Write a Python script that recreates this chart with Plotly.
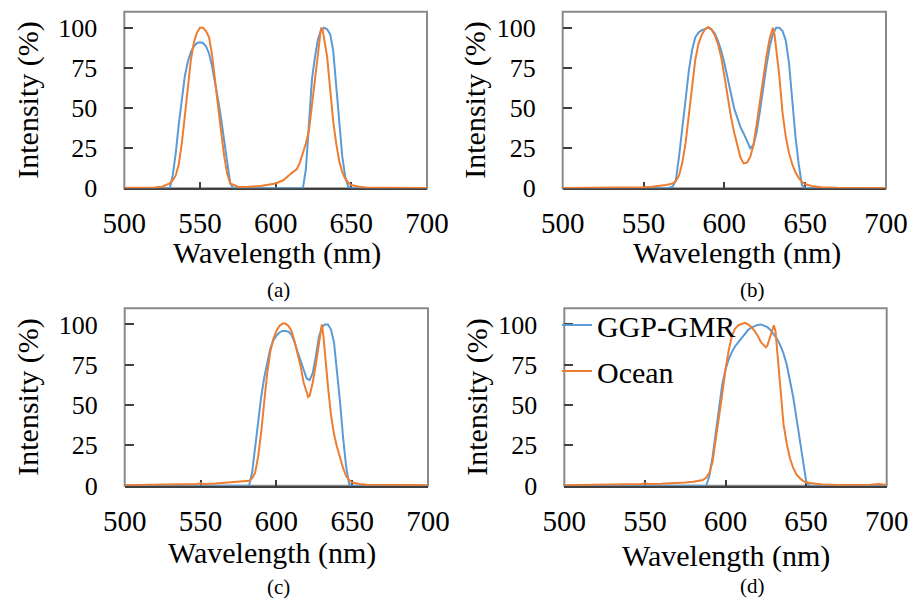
import plotly.graph_objects as go

# ---------------- data ----------------
# panel (a)
a_blue_wl = [500, 525, 530, 532, 534, 536, 538, 540, 542, 544, 546, 548, 550, 552, 554, 556, 558, 560, 562, 564, 566, 568, 570, 572,
             600, 618, 620, 622, 624, 626, 628, 630, 632, 634, 636, 638, 640, 642, 644, 646, 648, 650, 700]
a_blue = [0, 0, 0, 8, 22, 40, 57, 70, 79, 85, 88.5, 90.5, 91, 90.5, 88.5, 84, 76, 66, 55, 43, 30, 16, 3, 0,
          0, 0, 12, 40, 68, 82, 93, 98.5, 100, 99, 96, 86, 62, 40, 20, 7, 1, 0, 0]
a_orange_wl = [500, 510, 520, 525, 528, 530, 532, 534, 536, 538, 540, 542, 544, 546, 548, 550, 552, 554, 556, 558, 560, 562, 564,
               566, 568, 570, 575, 580, 590, 600, 605, 610, 614, 616, 618, 620, 622, 624, 626, 628, 630, 631, 632, 634, 636, 638,
               640, 642, 644, 646, 648, 650, 655, 660, 670, 680, 700]
a_orange = [0.3, 0.3, 0.5, 1, 2, 3, 5, 8, 15, 28, 45, 63, 80, 91, 97, 100, 100, 98, 94, 83, 66, 50, 35,
            20, 9, 3, 1, 0.8, 1.5, 3, 5, 9, 12, 16, 22, 28, 36, 52, 66, 86, 100, 99, 94, 82, 62, 42,
            28, 17, 10, 6, 3.5, 2, 1, 0.5, 0.3, 0.3, 0.2]

# panel (b)
b_blue_wl = [500, 565, 568, 570, 572, 574, 576, 578, 580, 582, 584, 586, 588, 590, 592, 594, 596, 598, 600, 602, 604, 606, 608,
             610, 612, 614, 616, 618, 620, 622, 624, 626, 628, 630, 632, 634, 636, 638, 640, 642, 644, 646, 648, 650, 700]
b_blue = [0, 0, 1, 5, 20, 36, 55, 73, 86, 94, 97, 98.5, 99.5, 100, 99, 96.5, 92, 86, 78, 68, 58, 50, 44,
          38, 34, 29, 25, 27, 35, 48, 63, 76, 88, 96, 100, 100, 98, 92, 78, 55, 32, 15, 2, 0, 0]
b_orange_wl = [500, 520, 540, 550, 555, 560, 564, 568, 570, 572, 574, 576, 578, 580, 582, 584, 586, 588, 590, 592, 594, 596,
               598, 600, 602, 604, 606, 608, 610, 612, 614, 616, 618, 620, 622, 624, 626, 628, 630, 631, 632, 634, 636, 638,
               640, 642, 644, 646, 648, 650, 655, 660, 670, 680, 690, 700]
b_orange = [0.2, 0.3, 0.5, 0.7, 1, 1.3, 2, 3, 4.5, 8, 16, 28, 45, 64, 80, 90, 95.5, 99, 100.5, 99, 95.5, 90,
            82, 70, 57, 45, 35, 26, 19, 15.5, 16, 19.5, 27, 40, 55, 68, 82, 93, 100, 96, 88, 70, 47, 32,
            22, 15, 10, 6.5, 4, 2.5, 1.2, 0.7, 0.4, 0.3, 0.3, 0.2]

# panel (c)
c_blue_wl = [500, 580, 582, 584, 586, 588, 590, 592, 594, 596, 598, 600, 602, 604, 606, 608, 610, 612, 614, 616, 618, 620,
             622, 624, 626, 628, 630, 632, 634, 636, 638, 640, 642, 644, 646, 648, 650, 700]
c_blue = [0, 0, 0, 8, 24, 40, 55, 67, 77, 85, 90, 93, 95, 96, 96, 95.5, 93.5, 89, 83, 77, 71.5, 66.5,
          65.5, 70, 80, 92, 98, 100, 100, 97, 89, 72, 52, 30, 12, 1, 0, 0]
c_orange_wl = [500, 520, 540, 548, 550, 552, 560, 570, 575, 580, 582, 584, 586, 588, 590, 592, 594, 596, 598, 600, 602, 604,
               606, 608, 610, 612, 614, 616, 618, 620, 621, 622, 624, 626, 628, 630, 631, 632, 634, 636, 638, 640, 642, 644,
               646, 648, 650, 655, 660, 670, 680, 690, 700]
c_orange = [0.3, 0.4, 0.6, 1, 1.5, 1, 1.3, 2, 2.5, 3, 3, 4.5, 8, 18, 33, 52, 70, 83, 91, 96, 99, 100.5,
            100.5, 99, 96, 89.5, 82, 74, 64, 57, 55, 56, 64, 75, 89, 100, 93, 82, 62, 44, 32, 24, 17, 11,
            6, 3.5, 2, 1, 0.6, 0.4, 0.5, 0.4, 0.3]

# panel (d)
d_blue_wl = [500, 586, 588, 590, 592, 594, 596, 598, 600, 602, 604, 606, 608, 610, 612, 614, 616, 618, 620, 622, 624, 626,
             628, 630, 632, 634, 636, 638, 640, 642, 644, 646, 648, 650, 652, 700]
d_blue = [0, 0, 0, 6, 18, 33, 49, 63, 72, 78.5, 83, 86.5, 89, 91.5, 94, 96.5, 98, 99, 99.7, 100, 99.3, 98.3,
          96.5, 94, 91, 87, 82, 75, 66, 55, 42, 28, 15, 3, 0, 0]
d_orange_wl = [500, 520, 540, 548, 550, 552, 560, 570, 575, 580, 584, 586, 588, 590, 592, 594, 596, 598, 600, 602, 604, 606,
               608, 610, 612, 614, 616, 618, 620, 622, 624, 625, 626, 628, 630, 631, 632, 634, 636, 638, 640, 642, 644, 646,
               648, 650, 655, 660, 670, 680, 690, 695, 700]
d_orange = [0.3, 0.4, 0.6, 1, 1.5, 1, 1.2, 1.5, 2, 2.5, 3, 3.5, 5, 8, 15, 28, 42, 57, 72, 84, 93, 97.5,
            99.5, 100.5, 101, 100, 98.5, 96, 93, 89, 86.5, 85.8, 87, 93, 99.5, 96, 85, 58, 38, 26, 17, 11, 7, 4.8,
            3, 2, 1.2, 0.8, 0.5, 0.5, 0.6, 1, 0.5]

series_names = ["GGP-GMR", "Ocean"]
panel_labels = ["(a)", "(b)", "(c)", "(d)"]
x_ticks = [500, 550, 600, 650, 700]
y_ticks = [0, 25, 50, 75, 100]
x_title = "Wavelength (nm)"
y_title = "Intensity (%)"

panels = [
    (a_blue_wl, a_blue, a_orange_wl, a_orange),
    (b_blue_wl, b_blue, b_orange_wl, b_orange),
    (c_blue_wl, c_blue, c_orange_wl, c_orange),
    (d_blue_wl, d_blue, d_orange_wl, d_orange),
]

# ---------------- styling / layout ----------------
W, H = 912, 600
BLUE = "#5B9BD5"
ORANGE = "#ED7D31"
FONT = "Liberation Serif"
FRAME = "#8a8a8a"
DARK = "#404040"

# plot-area boxes in pixels: (left, right, top, bottom)
boxes = [
    (124.3, 427.0, 11.7, 188.3),
    (562.7, 886.0, 11.7, 188.3),
    (124.7, 428.0, 308.3, 485.7),
    (564.3, 886.7, 308.3, 485.7),
]
y_title_standoff = [10, 2, 11, 1]
x_title_pos = [(276.5, 253), (737, 253), (271.7, 553), (726, 556)]
caption_pos = [(278, 290), (752.7, 290), (278, 587), (752.7, 586)]

fig = go.Figure()
layout = dict(
    width=W, height=H,
    margin=dict(l=0, r=0, t=0, b=0, autoexpand=False),
    paper_bgcolor="white",
    plot_bgcolor="white",
    font=dict(family=FONT, color="black"),
    showlegend=True,
    legend=dict(
        x=557 / W, y=1 - 299 / H, xanchor="left", yanchor="top",
        xref="paper", yref="paper",
        font=dict(family=FONT, size=30, color="black"),
        bgcolor="rgba(0,0,0,0)", borderwidth=0,
        tracegroupgap=4, traceorder="grouped",
        itemwidth=30,
    ),
)
shapes = []
annotations = []

for i, (bwl, bv, owl, ov) in enumerate(panels):
    n = "" if i == 0 else str(i + 1)
    xa, ya = "x" + n, "y" + n
    left, right, top, bottom = boxes[i]
    fig.add_trace(go.Scatter(
        x=bwl, y=bv, xaxis=xa, yaxis=ya, mode="lines",
        line=dict(color=BLUE, width=2), name=series_names[0],
        legendgroup="g1", showlegend=(i == 3),
    ))
    fig.add_trace(go.Scatter(
        x=owl, y=ov, xaxis=xa, yaxis=ya, mode="lines",
        line=dict(color=ORANGE, width=2), name=series_names[1],
        legendgroup="g2", showlegend=(i == 3),
    ))
    layout["xaxis" + n] = dict(
        domain=[left / W, right / W], anchor=ya, automargin=False,
        range=[500, 700], tickvals=x_ticks, ticktext=[str(t) for t in x_ticks],
        ticks="inside", ticklen=6, tickwidth=1.5, tickcolor=DARK,
        showline=True, linecolor=DARK, linewidth=2, mirror=False,
        layer="below traces", showgrid=False, zeroline=False,
        tickfont=dict(family=FONT, size=29, color="black"),
        ticklabelstandoff=8,
        fixedrange=True,
    )
    layout["yaxis" + n] = dict(
        domain=[1 - bottom / H, 1 - top / H], anchor=xa, automargin=False,
        range=[0, 110], tickvals=y_ticks, ticktext=[str(t) for t in y_ticks],
        ticks="inside", ticklen=9, tickwidth=1.5, tickcolor=DARK,
        showline=False, layer="below traces", showgrid=False, zeroline=False,
        tickfont=dict(family=FONT, size=26, color="black"),
        ticklabelstandoff=26,
        title=dict(text=y_title, font=dict(family=FONT, size=30, color="black"),
                   standoff=y_title_standoff[i]),
        fixedrange=True,
    )
    shapes.append(dict(
        type="rect", xref=xa + " domain", yref=ya + " domain",
        x0=0, x1=1, y0=0, y1=1, layer="below",
        line=dict(color=FRAME, width=2), fillcolor="rgba(0,0,0,0)",
    ))
    tx, ty = x_title_pos[i]
    annotations.append(dict(
        text=x_title, x=tx / W, y=1 - ty / H, xref="paper", yref="paper",
        xanchor="center", yanchor="middle", showarrow=False,
        font=dict(family=FONT, size=30, color="black"),
    ))
    cx, cy = caption_pos[i]
    annotations.append(dict(
        text=panel_labels[i], x=cx / W, y=1 - cy / H, xref="paper", yref="paper",
        xanchor="center", yanchor="middle", showarrow=False,
        font=dict(family=FONT, size=21, color="black"),
    ))

layout["shapes"] = shapes
layout["annotations"] = annotations
fig.update_layout(**layout)
fig.write_html("out.html")
